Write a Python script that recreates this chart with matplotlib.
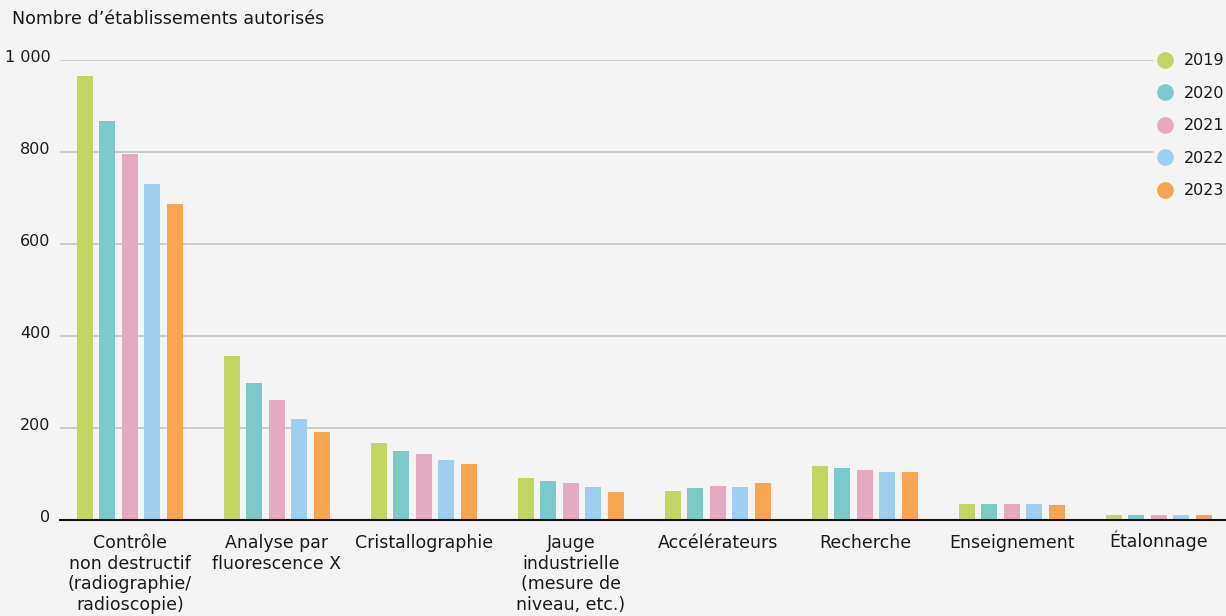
import numpy as np
import matplotlib.pyplot as plt
from matplotlib.lines import Line2D
from matplotlib.transforms import ScaledTranslation

# Données
categories = ['Contrôle\nnon destructif\n(radiographie/\nradioscopie)',
              'Analyse par\nfluorescence X',
              'Cristallographie',
              'Jauge\nindustrielle\n(mesure de\nniveau, etc.)',
              'Accélérateurs',
              'Recherche',
              'Enseignement',
              'Étalonnage']
annees = ['2019', '2020', '2021', '2022', '2023']
v2019 = [965, 357, 167, 91, 63, 117, 35, 11]
v2020 = [867, 298, 150, 85, 70, 113, 35, 11]
v2021 = [796, 261, 143, 80, 74, 109, 35, 11]
v2022 = [730, 220, 130, 72, 72, 104, 35, 11]
v2023 = [687, 191, 122, 61, 80, 104, 33, 11]
series = [v2019, v2020, v2021, v2022, v2023]
couleurs = ['#c2d563', '#7cc9ca', '#e4aac2', '#9ecfee', '#f6a550']
yticks = [0, 200, 400, 600, 800, 1000]
ytick_labels = ['0', '200', '400', '600', '800', '1 000']

fond = '#f4f4f4'
plt.rcParams['font.family'] = ['DejaVu Sans']

fig = plt.figure(figsize=(12.26, 6.16), dpi=100, facecolor=fond)
ax = fig.add_axes([60 / 1226, 96 / 616, 1166 / 1226, 460 / 616])
ax.set_facecolor(fond)

x = np.arange(len(categories))
largeur = 0.109
ecart = 0.153
for i, (vals, c) in enumerate(zip(series, couleurs)):
    ax.bar(x + (i - 2) * ecart, vals, largeur, color=c, zorder=3)

ax.set_xlim(-0.476, 7.456)
ax.set_ylim(0, 1000)
ax.set_yticks(yticks)
ax.set_yticklabels(ytick_labels, fontsize=11.5, color='#1a1a1a')
ax.set_xticks(x)
ax.set_xticklabels(categories, fontsize=12.5, color='#1a1a1a', linespacing=1.2)
ax.tick_params(axis='both', length=0)
ax.tick_params(axis='y', pad=7)
ax.tick_params(axis='x', pad=10)
decal = ScaledTranslation(0, 3 / 100, fig.dpi_scale_trans)
for lab in ax.get_yticklabels():
    lab.set_verticalalignment('center')
    lab.set_transform(lab.get_transform() + decal)
# l'accent de « Étalonnage » fait descendre l'étiquette : on la remonte
lab = ax.get_xticklabels()[-1]
lab.set_transform(lab.get_transform() + ScaledTranslation(0, 3 / 100, fig.dpi_scale_trans))

ax.grid(axis='y', color='#c8c8c8', linewidth=1.3, zorder=0)
for s in ['top', 'right', 'left']:
    ax.spines[s].set_visible(False)
ax.spines['bottom'].set_color('#111111')
ax.spines['bottom'].set_linewidth(1.5)
ax.spines['bottom'].set_zorder(4)

fig.text(12 / 1226, 1 - 19 / 616, 'Nombre d\u2019établissements autorisés',
         fontsize=12.6, color='#1a1a1a', va='center', ha='left')

poignees = [Line2D([0], [0], marker='o', linestyle='', markersize=11,
                   markerfacecolor=c, markeredgecolor=c) for c in couleurs]
leg = fig.legend(poignees, annees, loc='upper left',
                 bbox_to_anchor=(1154 / 1226, 1 - 50 / 616),
                 frameon=True, facecolor=fond, edgecolor=fond, framealpha=1,
                 fontsize=11.5, labelspacing=1.1, handletextpad=0.65,
                 handlelength=1.0, borderpad=0.2, borderaxespad=0)
for t in leg.get_texts():
    t.set_color('#1a1a1a')

fig.savefig('out.png', dpi=100, facecolor=fond)
